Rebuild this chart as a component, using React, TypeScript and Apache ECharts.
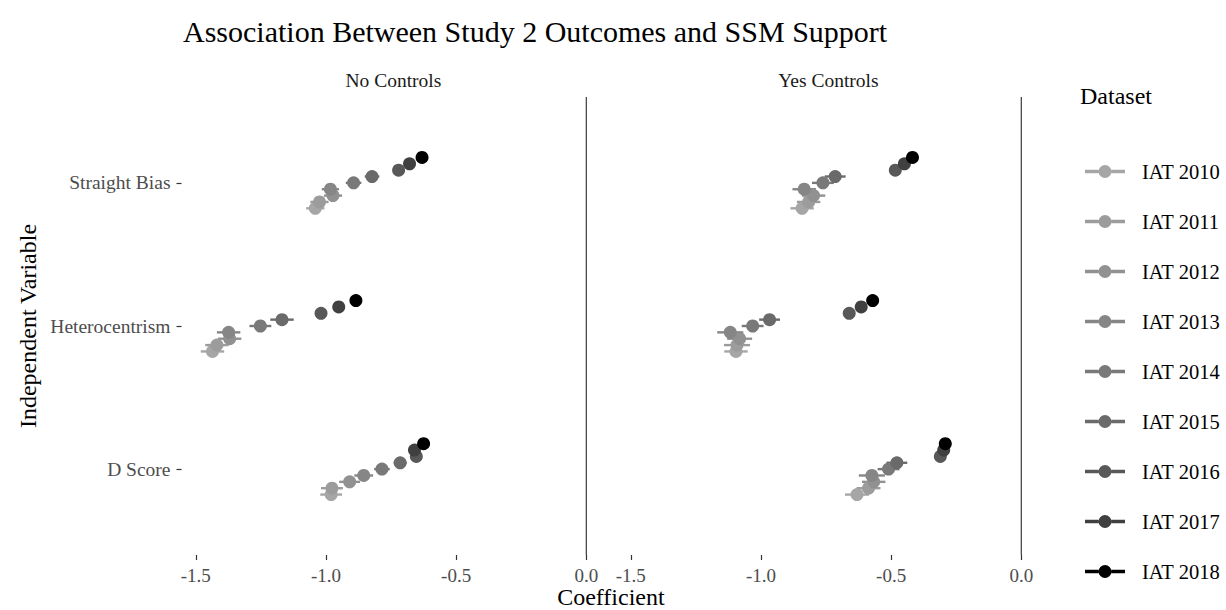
import React, { useEffect, useRef } from 'react';
import * as echarts from 'echarts';

// ---------- data ----------
const years = ['IAT 2010', 'IAT 2011', 'IAT 2012', 'IAT 2013', 'IAT 2014', 'IAT 2015', 'IAT 2016', 'IAT 2017', 'IAT 2018'];
const yearColors = ['#A6A6A6', '#9C9C9C', '#919191', '#868686', '#797979', '#6A6A6A', '#585858', '#404040', '#000000'];
// bottom to top
const variables = ['D Score', 'Heterocentrism', 'Straight Bias'];
const panels = ['No Controls', 'Yes Controls'];
const xTicks = [-1.5, -1.0, -0.5, 0.0];

// coefficients by year (2010..2018)
const noCtrlDScore = [-0.980, -0.977, -0.909, -0.855, -0.785, -0.715, -0.653, -0.660, -0.625];
const noCtrlHetero = [-1.436, -1.419, -1.370, -1.374, -1.252, -1.169, -1.019, -0.951, -0.885];
const noCtrlStraight = [-1.041, -1.025, -0.973, -0.983, -0.894, -0.823, -0.721, -0.679, -0.631];
const yesCtrlDScore = [-0.631, -0.587, -0.567, -0.574, -0.510, -0.478, -0.311, -0.298, -0.292];
const yesCtrlHetero = [-1.096, -1.092, -1.082, -1.118, -1.032, -0.967, -0.661, -0.615, -0.571];
const yesCtrlStraight = [-0.842, -0.817, -0.798, -0.834, -0.762, -0.715, -0.484, -0.449, -0.418];

// CI half widths
const noCtrlDScoreCI = [0.042, 0.042, 0.040, 0.036, 0.030, 0.025, 0.020, 0.018, 0.015];
const noCtrlHeteroCI = [0.045, 0.045, 0.045, 0.045, 0.042, 0.045, 0.020, 0.018, 0.015];
const noCtrlStraightCI = [0.035, 0.035, 0.035, 0.033, 0.030, 0.028, 0.020, 0.018, 0.015];
const yesCtrlDScoreCI = [0.046, 0.046, 0.045, 0.050, 0.042, 0.040, 0.020, 0.018, 0.015];
const yesCtrlHeteroCI = [0.045, 0.050, 0.048, 0.050, 0.042, 0.040, 0.020, 0.018, 0.015];
const yesCtrlStraightCI = [0.045, 0.045, 0.045, 0.045, 0.042, 0.040, 0.020, 0.018, 0.015];

const panelCoefs = [
  [noCtrlDScore, noCtrlHetero, noCtrlStraight],
  [yesCtrlDScore, yesCtrlHetero, yesCtrlStraight],
];
const panelCIs = [
  [noCtrlDScoreCI, noCtrlHeteroCI, noCtrlStraightCI],
  [yesCtrlDScoreCI, yesCtrlHeteroCI, yesCtrlStraightCI],
];

// ---------- layout ----------
const SERIF = "'Liberation Serif', 'Times New Roman', Times, serif";
const GRID_LEFTS = [181.5, 616.5];
const GRID_W = 423.8;
const GRID_TOP = 97;
const GRID_H = 458;
const X_MIN = -1.555;
const X_MAX = 0.073;
const DODGE = 0.4 / 9;

const LEGEND_ICON =
  'path://M0,4.8L13.6,4.8L13.6,8.2L0,8.2Z M26.4,4.8L40,4.8L40,8.2L26.4,8.2Z M13.5,6.5A6.5,6.5,0,1,1,26.5,6.5A6.5,6.5,0,1,1,13.5,6.5Z';

function buildOption() {
  const series: any[] = [];
  panels.forEach((_, p) => {
    series.push({
      type: 'line',
      xAxisIndex: p,
      yAxisIndex: p,
      data: [[0, 0.4], [0, 3.6]],
      symbol: 'none',
      silent: true,
      lineStyle: { color: '#3a3a3a', width: 1.2 },
      z: 1,
    });
  });
  years.forEach((name, i) => {
    const color = yearColors[i];
    const off = (i - 4) * DODGE;
    panels.forEach((_, p) => {
      series.push({
        type: 'custom',
        name,
        xAxisIndex: p,
        yAxisIndex: p,
        silent: true,
        itemStyle: { color },
        encode: { x: [0, 1], y: 2 },
        data: variables.map((__, v) => {
          const c = panelCoefs[p][v][i];
          const h = panelCIs[p][v][i];
          return [c - h, c + h, v + 1 + off];
        }),
        renderItem: (params: any, api: any) => {
          const a = api.coord([api.value(0), api.value(2)]);
          const b = api.coord([api.value(1), api.value(2)]);
          return {
            type: 'line',
            shape: { x1: a[0], y1: a[1], x2: b[0], y2: b[1] },
            style: { stroke: color, lineWidth: 2.4 },
          };
        },
        z: 2,
      });
      series.push({
        type: 'scatter',
        name,
        xAxisIndex: p,
        yAxisIndex: p,
        symbolSize: 13,
        silent: true,
        itemStyle: { color, opacity: 1 },
        data: variables.map((__, v) => [panelCoefs[p][v][i], v + 1 + off]),
        z: 2,
      });
    });
  });

  const texts: any[] = [
    {
      type: 'text', x: 183, y: 31,
      style: { text: 'Association Between Study 2 Outcomes and SSM Support', fontSize: 30, fontFamily: SERIF, fill: '#000', align: 'left', verticalAlign: 'middle' },
    },
    ...panels.map((t, p) => ({
      type: 'text', x: GRID_LEFTS[p] + GRID_W / 2, y: 80,
      style: { text: t, fontSize: 19.5, fontFamily: SERIF, fill: '#1A1A1A', align: 'center', verticalAlign: 'middle' },
    })),
    {
      type: 'text', x: (GRID_LEFTS[0] + GRID_LEFTS[1] + GRID_W) / 2, y: 597,
      style: { text: 'Coefficient', fontSize: 24, fontFamily: SERIF, fill: '#000', align: 'center', verticalAlign: 'middle' },
    },
    {
      type: 'text', x: 28, y: GRID_TOP + GRID_H / 2, rotation: Math.PI / 2,
      style: { text: 'Independent Variable', fontSize: 24, fontFamily: SERIF, fill: '#000', align: 'center', verticalAlign: 'middle' },
    },
    {
      type: 'text', x: 1080, y: 96,
      style: { text: 'Dataset', fontSize: 24, fontFamily: SERIF, fill: '#000', align: 'left', verticalAlign: 'middle' },
    },
  ];

  return {
    animation: false,
    backgroundColor: '#ffffff',
    grid: panels.map((_, p) => ({
      left: GRID_LEFTS[p], top: GRID_TOP, width: GRID_W, height: GRID_H,
      containLabel: false, outerBoundsMode: 'none',
    })),
    xAxis: panels.map((_, p) => ({
      type: 'value', gridIndex: p, min: X_MIN, max: X_MAX, position: 'bottom',
      axisLine: { show: false, onZero: false }, splitLine: { show: false },
      axisTick: { show: true, length: 5, customValues: xTicks, lineStyle: { color: '#333333', width: 1.2 } },
      axisLabel: {
        customValues: xTicks, formatter: (v: number) => v.toFixed(1),
        color: '#4D4D4D', fontSize: 19, fontFamily: SERIF, margin: 11,
      },
    })),
    yAxis: panels.map((_, p) => ({
      type: 'value', gridIndex: p, min: 0.4, max: 3.6, position: 'left',
      axisLine: { show: false, onZero: false }, splitLine: { show: false },
      axisTick: { show: p === 0, length: 5, customValues: [1, 2, 3], lineStyle: { color: '#333333', width: 1.2 } },
      axisLabel: {
        show: p === 0, customValues: [1, 2, 3],
        formatter: (v: number) => variables[Math.round(v) - 1] || '',
        color: '#4D4D4D', fontSize: 19.5, fontFamily: SERIF, margin: 11,
      },
    })),
    legend: {
      orient: 'vertical', left: 1080, top: 156,
      itemWidth: 40, itemHeight: 20, itemGap: 29,
      selectedMode: false,
      data: years.map((n, i) => ({ name: n, icon: LEGEND_ICON, itemStyle: { color: yearColors[i] } })),
      textStyle: { fontFamily: SERIF, fontSize: 20.5, color: '#000', padding: [0, 0, 0, 12] },
    },
    graphic: texts,
    series,
  };
}

export default function App() {
  const ref = useRef<HTMLDivElement>(null);
  useEffect(() => {
    document.body.style.margin = '0';
    if (!ref.current) return;
    const chart = echarts.init(ref.current, undefined, { renderer: 'svg' });
    chart.setOption(buildOption() as any);
    return () => chart.dispose();
  }, []);
  return <div ref={ref} style={{ width: 1226, height: 610 }} />;
}
